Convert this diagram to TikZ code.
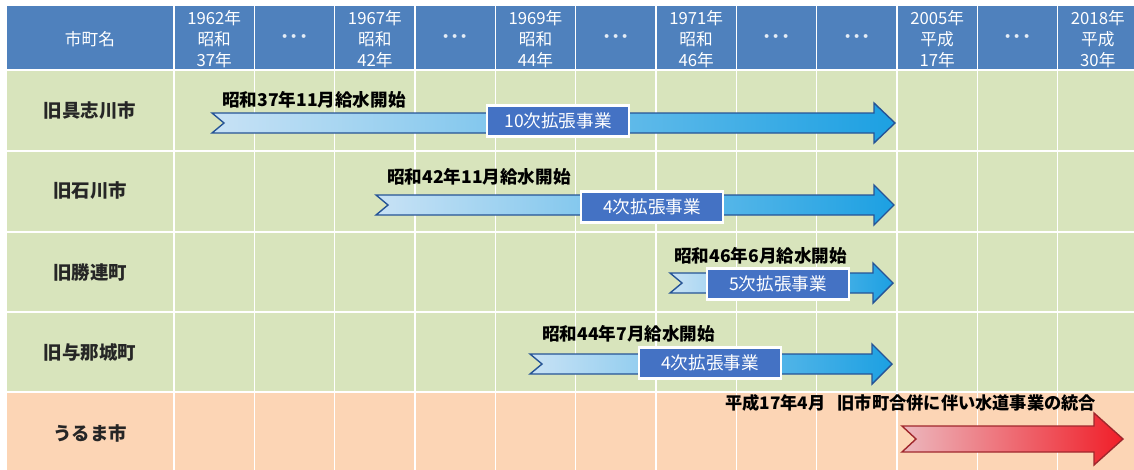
\documentclass[tikz,border=0pt]{standalone}
\usepackage{fontspec}
\setmainfont{Noto Sans CJK JP}
\usetikzlibrary{shadows}
\definecolor{hdrblue}{RGB}{79,129,189}
\definecolor{rowgreen}{RGB}{216,228,188}
\definecolor{roworange}{RGB}{252,213,181}
\definecolor{arrlight}{RGB}{200,226,245}
\definecolor{arrdark}{RGB}{28,160,226}
\definecolor{arrline}{RGB}{38,84,150}
\definecolor{boxblue}{RGB}{68,114,196}
\definecolor{redlight}{RGB}{236,184,190}
\definecolor{reddark}{RGB}{240,30,40}
\definecolor{redline}{RGB}{160,40,45}
\newcommand\tlArrow[8]{% style, tail x, head start x, tip x, centre y, body half, head half, notch
  \draw[#1] (#2,#5-#6) -- (#3,#5-#6) -- (#3,#5-#7) -- (#4,#5) -- (#3,#5+#7)
    -- (#3,#5+#6) -- (#2,#5+#6) -- (#2+#8,#5) -- cycle;}
\tikzset{
  gridline/.style={draw=white, line width=0.8pt},
  hdrtext/.style={text=white, align=center, font=\fontsize{9.5}{11.9}\selectfont, inner sep=0pt},
  hdots/.style={text=white!85!hdrblue, font=\fontsize{10.5}{12}\selectfont\bfseries, inner sep=0pt},
  rowname/.style={font=\fontsize{10.5}{12}\selectfont\bfseries, text=black!85, inner sep=0pt},
  beginlbl/.style={font=\fontsize{10}{12}\selectfont\bfseries, text=black, anchor=west, inner sep=0pt},
  projbox/.style={fill=boxblue, draw=white, line width=1.3pt, text=white,
    minimum width=2.84cm, minimum height=0.62cm, inner sep=0pt,
    font=\fontsize{10}{12}\selectfont,
    drop shadow={opacity=0.35, shadow xshift=0.8pt, shadow yshift=-0.8pt}},
  bluearrow/.style={left color=arrlight, right color=arrdark, draw=arrline, line width=0.8pt, line join=miter},
  redarrow/.style={left color=redlight, right color=reddark, draw=redline, line width=0.8pt, line join=miter},
}
\begin{document}
\begin{tikzpicture}[x=0.02cm, y=-0.02cm]
\useasboundingbox[fill=white] (0,0) rectangle (1134,470);
% table background
\fill[hdrblue] (7,6) rectangle (1134,70);
\fill[rowgreen] (7,70) rectangle (1134,392);
\fill[roworange] (7,392) rectangle (1134,470);
% grid
\foreach \i in {0,...,11} \draw[gridline] ({174+80.33*\i},6) -- ({174+80.33*\i},470);
\foreach \yy in {70,151,232,312,392} \draw[gridline] (7,\yy) -- (1134,\yy);
% header
\node[hdrtext] (h0) at (90,39) {市町名};
\node[hdrtext] (h1) at ({214.2+80.33*0},39) {1962年\\昭和\\37年};
\node[hdots]   (h2) at ({214.2+80.33*1},39) {･･･};
\node[hdrtext] (h3) at ({214.2+80.33*2},39) {1967年\\昭和\\42年};
\node[hdots]   (h4) at ({214.2+80.33*3},39) {･･･};
\node[hdrtext] (h5) at ({214.2+80.33*4},39) {1969年\\昭和\\44年};
\node[hdots]   (h6) at ({214.2+80.33*5},39) {･･･};
\node[hdrtext] (h7) at ({214.2+80.33*6},39) {1971年\\昭和\\46年};
\node[hdots]   (h8) at ({214.2+80.33*7},39) {･･･};
\node[hdots]   (h9) at ({214.2+80.33*8},39) {･･･};
\node[hdrtext] (h10) at ({214.2+80.33*9},39) {2005年\\平成\\17年};
\node[hdots]   (h11) at ({214.2+80.33*10},39) {･･･};
\node[hdrtext] (h12) at ({214.2+80.33*11},39) {2018年\\平成\\30年};
% row names
\node[rowname] (r1) at (90,111) {旧具志川市};
\node[rowname] (r2) at (90,191) {旧石川市};
\node[rowname] (r3) at (90,272) {旧勝連町};
\node[rowname] (r4) at (90,352) {旧与那城町};
\node[rowname] (r5) at (90,433) {うるま市};
% arrows
\tlArrow{bluearrow}{212}{874}{895}{123}{10}{20}{12}
\tlArrow{bluearrow}{376}{874}{894}{205}{10}{20}{12}
\tlArrow{bluearrow}{670}{873}{893}{283}{10}{20}{12}
\tlArrow{bluearrow}{530}{872}{892}{364}{10}{20}{12}
\tlArrow{redarrow}{902}{1094}{1123}{439}{13}{26}{14}
% project boxes
\node[projbox] (p1) at (558,121) {10次拡張事業};
\node[projbox] (p2) at (652,207) {4次拡張事業};
\node[projbox] (p3) at (778,284) {5次拡張事業};
\node[projbox] (p4) at (710,363) {4次拡張事業};
% start labels
\node[beginlbl] (s1) at (222,100) {昭和37年11月給水開始};
\node[beginlbl] (s2) at (387,177) {昭和42年11月給水開始};
\node[beginlbl] (s3) at (674,256) {昭和46年6月給水開始};
\node[beginlbl] (s4) at (542,334) {昭和44年7月給水開始};
\node[beginlbl, font=\fontsize{9.8}{12}\selectfont\bfseries] (s5) at (725,403) {平成17年4月\hspace{0.7em}旧市町合併に伴い水道事業の統合};
\end{tikzpicture}
\end{document}
